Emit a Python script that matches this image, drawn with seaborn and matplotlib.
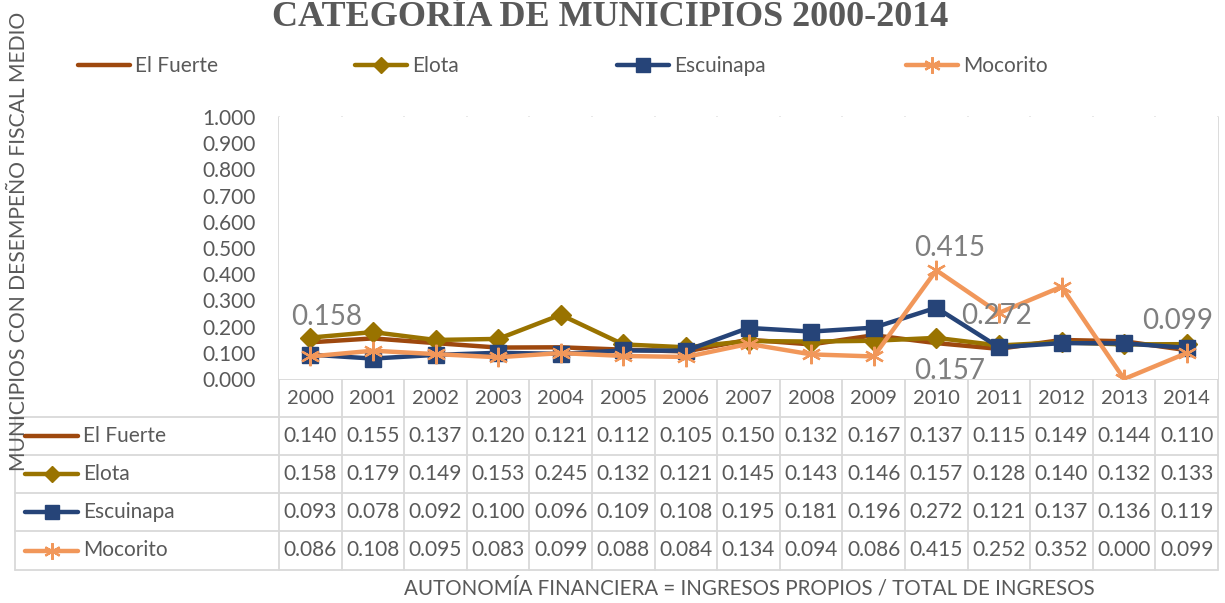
import matplotlib
matplotlib.use("Agg")
import matplotlib.pyplot as plt
import seaborn as sns
import numpy as np
import pandas as pd
from matplotlib.lines import Line2D

years = [2000, 2001, 2002, 2003, 2004, 2005, 2006, 2007, 2008, 2009, 2010, 2011, 2012, 2013, 2014]
el_fuerte = [0.140, 0.155, 0.137, 0.120, 0.121, 0.112, 0.105, 0.150, 0.132, 0.167, 0.137, 0.115, 0.149, 0.144, 0.110]
elota = [0.158, 0.179, 0.149, 0.153, 0.245, 0.132, 0.121, 0.145, 0.143, 0.146, 0.157, 0.128, 0.140, 0.132, 0.133]
escuinapa = [0.093, 0.078, 0.092, 0.100, 0.096, 0.109, 0.108, 0.195, 0.181, 0.196, 0.272, 0.121, 0.137, 0.136, 0.119]
mocorito = [0.086, 0.108, 0.095, 0.083, 0.099, 0.088, 0.084, 0.134, 0.094, 0.086, 0.415, 0.252, 0.352, 0.000, 0.099]
series_names = ["El Fuerte", "Elota", "Escuinapa", "Mocorito"]
y_ticks = [0.0, 0.1, 0.2, 0.3, 0.4, 0.5, 0.6, 0.7, 0.8, 0.9, 1.0]

title = "CATEGORÍA DE MUNICIPIOS 2000-2014"
ylabel = "MUNICIPIOS CON DESEMPEÑO FISCAL MEDIO"
xlabel = "AUTONOMÍA FINANCIERA = INGRESOS PROPIOS / TOTAL DE INGRESOS"

colors = ["#9E480E", "#997300", "#264478", "#F1975A"]
markers = [None, "D", "s", (6, 2, 0)]
msizes = [0, 10, 12, 14]
mews = [0, 1, 1, 1.6]

sns.set_theme(style="white")
plt.rcParams["font.family"] = ["Lato", "DejaVu Sans"]
TXT = "#595959"

W, H = 1225, 603
fig = plt.figure(figsize=(W / 100, H / 100), dpi=100)
L, R, T, B = 279, 1218, 117, 379
ax = fig.add_axes([L / W, 1 - B / H, (R - L) / W, (B - T) / H])

all_vals = [el_fuerte, elota, escuinapa, mocorito]
df = pd.DataFrame({
    "idx": np.tile(np.arange(len(years)), 4),
    "val": np.concatenate(all_vals),
    "serie": np.repeat(series_names, len(years)),
})
for name, c, m, ms, mew in zip(series_names, colors, markers, msizes, mews):
    sub = df[df.serie == name]
    kw = dict(marker=m, markersize=ms, markeredgecolor=c, markerfacecolor=c, markeredgewidth=mew) if m else {}
    sns.lineplot(data=sub, x="idx", y="val", color=c, lw=3.2, ax=ax, legend=False, **kw)

ax.set_xlim(-0.5, len(years) - 0.5)
ax.set_ylim(0, 1)
ax.set_yticks(y_ticks)
ax.set_yticklabels([f"{v:.3f}" for v in y_ticks], fontsize=15, color=TXT)
ax.tick_params(axis="y", length=0, pad=17)
ax.set_xticks([])
ax.set_xlabel("")
ax.set_ylabel("")
for s in ax.spines.values():
    s.set_visible(False)

# overlay axes in pixel coordinates for the data table
ov = fig.add_axes([0, 0, 1, 1], zorder=-1)
ov.set_xlim(0, W)
ov.set_ylim(H, 0)
ov.axis("off")
ov.patch.set_alpha(0)

GRID = "#D9D9D9"
colw = (R - L) / len(years)
xs = [L + colw * (i + 0.5) for i in range(len(years))]
rows_y = [379, 417, 455, 493, 531, 570]
tab_left = 15
for k in range(len(years) + 1):
    xx = L + colw * k
    ov.plot([xx, xx], [T, rows_y[-1]], color=GRID, lw=1.3)
ov.plot([tab_left, tab_left], [rows_y[1], rows_y[-1]], color=GRID, lw=1.3)
ov.plot([L, R], [rows_y[0], rows_y[0]], color=GRID, lw=1.3)
for yy in rows_y[1:]:
    ov.plot([tab_left, R], [yy, yy], color=GRID, lw=1.3)
for x, yv in zip(xs, years):
    ov.text(x, (rows_y[0] + rows_y[1]) / 2 + 1, str(yv), ha="center", va="center", fontsize=14.5, color=TXT)
for r, (name, vals, c, m, ms, mew) in enumerate(zip(series_names, all_vals, colors, markers, msizes, mews)):
    yc = (rows_y[r + 1] + rows_y[r + 2]) / 2
    ov.plot([25, 78], [yc, yc], color=c, lw=3.2, solid_capstyle="round")
    if m:
        ov.plot([51.5], [yc], marker=m, markersize=ms * 0.85, color=c, markeredgewidth=mew)
    ov.text(83, yc, name, ha="left", va="center", fontsize=15, color=TXT)
    for x, v in zip(xs, vals):
        ov.text(x, yc, f"{v:.3f}", ha="center", va="center", fontsize=15, color=TXT)

# data labels
LBL = "#7F7F7F"
def lab(i, v, dx, dy):
    ax.annotate(f"{v:.3f}", (i, v), xytext=(dx * 0.72, dy * 0.72), textcoords="offset points",
                ha="center", va="center", fontsize=20, color=LBL, annotation_clip=False)

lab(0, elota[0], 16, 21)
lab(10, mocorito[10], 13, 22)
lab(10, escuinapa[10], 60, -8)
lab(10, elota[10], 13, -33)
lab(14, mocorito[14], -9, 32)

# legend: one entry each, at the reference positions
leg_x = [78, 355, 617, 906]
for name, c, m, ms, mew, lx in zip(series_names, colors, markers, msizes, mews, leg_x):
    h = Line2D([0], [0], color=c, lw=3.2, marker=m if m else None,
               markersize=ms * 0.85, markeredgewidth=mew, markerfacecolor=c, markeredgecolor=c)
    lg = fig.legend([h], [name], loc="center left", bbox_to_anchor=(lx / W, 1 - 66 / H),
                    frameon=False, fontsize=15, handlelength=2.5, handletextpad=0.25,
                    borderpad=0, borderaxespad=0)
    for t in lg.get_texts():
        t.set_color(TXT)

# title & axis labels
fig.text(610 / W, 1 - 0.5 / H, title, ha="center", va="top", fontsize=26, fontweight="bold",
         color=TXT, family=["Liberation Serif", "DejaVu Serif"])
fig.text(19 / W, 1 - 241 / H, ylabel, ha="center", va="center", rotation=90, fontsize=15.2, color=TXT)
fig.text(749 / W, 1 - 588 / H, xlabel, ha="center", va="center", fontsize=14.8, color=TXT)

fig.savefig("out.png", dpi=100)
